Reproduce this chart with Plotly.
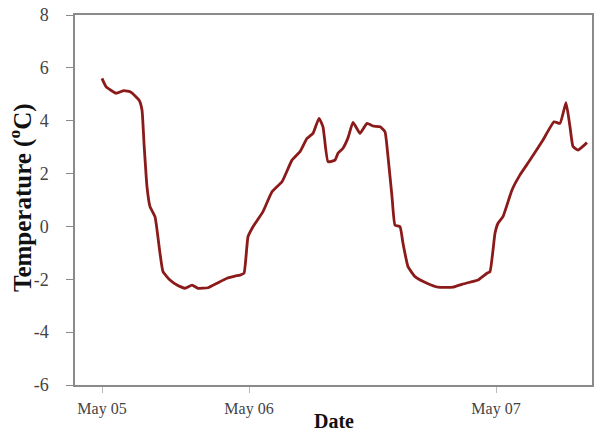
import plotly.graph_objects as go

# sample index (May 05 00:00 at 0) and temperature in °C
sample = [0, 4, 14, 22, 29, 37, 40, 42, 45, 48, 53, 58, 61, 68, 75, 83, 90, 96,
          106, 115, 125, 133, 138, 142, 146, 151, 161, 170, 180, 190, 198, 205,
          211, 217, 221, 226, 233, 236, 241, 246, 251, 258, 265, 271, 278, 283,
          286, 290, 293, 298, 301, 306, 313, 325, 336, 351, 360, 370, 376, 385,
          388, 393, 396, 401, 410, 418, 428, 441, 452, 458, 464, 468, 471, 476, 485]
temp = [5.60, 5.29, 5.04, 5.14, 5.08, 4.78, 4.41, 3.15, 1.50, 0.75, 0.37, -1.02,
        -1.71, -2.03, -2.22, -2.34, -2.22, -2.34, -2.32, -2.15, -1.96, -1.88,
        -1.84, -1.77, -0.39, -0.01, 0.56, 1.31, 1.69, 2.51, 2.83, 3.33, 3.52,
        4.09, 3.77, 2.45, 2.51, 2.77, 2.96, 3.35, 3.94, 3.52, 3.90, 3.80, 3.77,
        3.58, 2.64, 1.13, 0.05, -0.01, -0.64, -1.52, -1.90, -2.15, -2.30, -2.30,
        -2.19, -2.09, -2.03, -1.77, -1.71, -0.26, 0.12, 0.37, 1.38, 1.95, 2.51,
        3.27, 3.96, 3.90, 4.68, 3.77, 3.02, 2.89, 3.17]

tick_pos = [0, 147, 394]
tick_text = ["May 05", "May 06", "May 07"]
y_ticks = [-6, -4, -2, 0, 2, 4, 6, 8]
y_tick_text = ["-6", "-4", "-2", "0", "2", "4", "6", "8"]

fig = go.Figure()
fig.add_trace(go.Scatter(
    x=sample, y=temp, mode="lines",
    line=dict(color="#8b1a1a", width=2.8, shape="spline", smoothing=0.4),
    showlegend=False, hoverinfo="skip"))

font_serif = "Liberation Serif, Times New Roman, serif"
fig.update_layout(
    width=604, height=432,
    margin=dict(l=75, r=12, t=15, b=47),
    paper_bgcolor="white", plot_bgcolor="white",
    font=dict(family=font_serif, size=15, color="#444"),
)
fig.update_xaxes(
    range=[-27, 490], tickvals=tick_pos, ticktext=tick_text,
    showgrid=False, zeroline=False, automargin=False,
    showline=True, linecolor="#8a8a8a", linewidth=1.5, mirror=True,
    ticks="outside", ticklen=6, tickcolor="#bbbbbb", tickwidth=1,
    ticklabelstandoff=2,
    tickfont=dict(family=font_serif, size=16, color="#444"),
)
fig.update_yaxes(
    range=[-6, 8], tickvals=y_ticks, ticktext=y_tick_text,
    showgrid=False, zeroline=False, automargin=False,
    showline=True, linecolor="#8a8a8a", linewidth=1.5, mirror=True,
    ticks="outside", ticklen=7, tickcolor="#8a8a8a", tickwidth=1,
    ticklabelstandoff=14,
    tickfont=dict(family=font_serif, size=18, color="#444"),
)
# axis titles
fig.add_annotation(text="<b>Date</b>", xref="paper", yref="paper", x=0.5, y=0,
                   xanchor="center", yanchor="middle", yshift=-36, showarrow=False,
                   font=dict(family=font_serif, size=20, color="#111"))
fig.add_annotation(text="<b>Temperature (<sup>o</sup>C)</b>", xref="paper", yref="paper",
                   x=0, y=0.5, xanchor="center", yanchor="middle", xshift=-55, yshift=2,
                   textangle=-90, showarrow=False,
                   font=dict(family=font_serif, size=25, color="#111"))

fig.write_html("out.html")
